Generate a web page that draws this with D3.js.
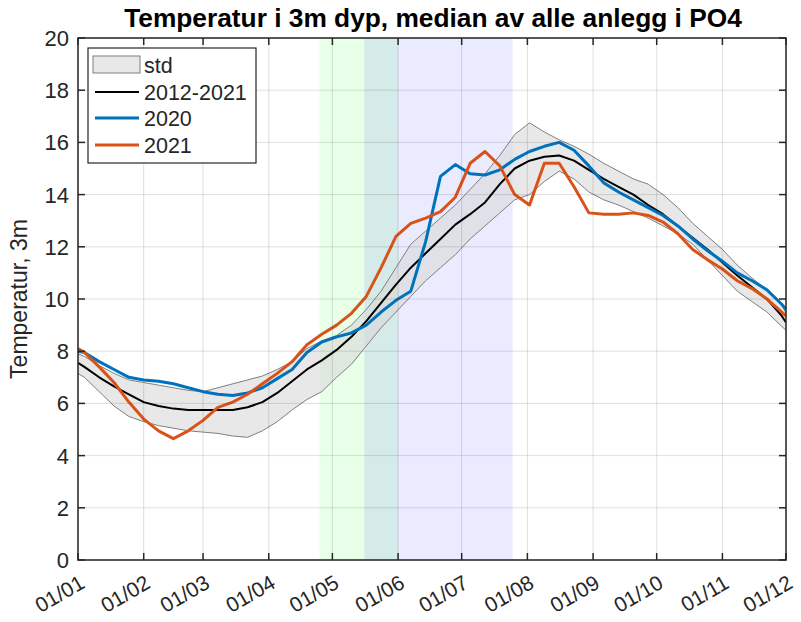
<!DOCTYPE html>
<html><head><meta charset="utf-8">
<script src="https://cdn.jsdelivr.net/npm/d3@7"></script>
<style>body{margin:0;background:#fff}svg{display:block}</style>
</head><body><svg id="c" width="801" height="622"></svg>
<script>
// day offsets from 1 January 2021 (weekly samples)
const dayOffsets = [0,3,10,17,24,31,38,45,52,59,66,73,80,87,94,101,108,115,122,129,136,143,150,157,164,171,178,185,192,199,206,213,220,227,234,241,248,255,262,269,276,283,290,297,304,311,318,325,332,334];
const median = [7.55,7.4,7.0,6.65,6.35,6.05,5.9,5.8,5.75,5.75,5.75,5.75,5.85,6.05,6.4,6.85,7.3,7.65,8.05,8.55,9.15,9.85,10.55,11.2,11.75,12.3,12.85,13.25,13.7,14.4,15.0,15.3,15.45,15.5,15.3,14.95,14.6,14.3,14.0,13.6,13.25,12.8,12.35,11.9,11.4,10.9,10.45,10.0,9.35,9.1];
const stdUpper = [7.9,7.8,7.45,7.15,6.9,6.8,6.7,6.6,6.5,6.45,6.6,6.75,6.9,7.05,7.3,7.6,8.1,8.4,8.6,9.0,9.6,10.3,11.2,12.1,12.6,13.1,13.6,14.2,14.8,15.5,16.3,16.75,16.4,16.1,15.85,15.55,15.2,14.9,14.6,14.4,14.0,13.5,12.9,12.4,11.9,11.3,10.8,10.35,9.8,9.45];
const stdLower = [7.15,7.0,6.45,5.9,5.5,5.3,5.15,5.05,4.95,4.9,4.85,4.75,4.7,4.95,5.3,5.75,6.15,6.45,7.0,7.5,8.2,8.9,9.5,10.1,10.7,11.2,11.7,12.3,12.8,13.3,13.8,14.0,14.5,14.9,14.6,14.1,13.8,13.6,13.35,13.1,12.8,12.5,12.1,11.5,10.9,10.3,9.9,9.5,8.95,8.8];
const y2020 = [8.0,7.95,7.6,7.3,7.0,6.9,6.85,6.75,6.6,6.45,6.35,6.3,6.4,6.6,6.95,7.3,7.95,8.35,8.55,8.7,9.0,9.5,9.95,10.3,12.2,14.7,15.15,14.8,14.75,14.95,15.35,15.65,15.85,16.0,15.7,15.1,14.45,14.1,13.8,13.5,13.2,12.8,12.3,11.85,11.45,11.0,10.7,10.35,9.8,9.6];
const y2021 = [8.1,7.95,7.4,6.8,6.05,5.4,4.95,4.65,4.95,5.35,5.85,6.05,6.35,6.75,7.15,7.6,8.25,8.65,9.0,9.45,10.1,11.2,12.4,12.9,13.1,13.35,13.9,15.2,15.65,15.1,14.0,13.6,15.2,15.2,14.3,13.3,13.25,13.25,13.3,13.2,12.95,12.5,11.9,11.5,11.15,10.7,10.4,10.0,9.5,9.35];
const xTickLabels = ["01/01","01/02","01/03","01/04","01/05","01/06","01/07","01/08","01/09","01/10","01/11","01/12"];
const yTicks = [0,2,4,6,8,10,12,14,16,18,20];
const bands = [
  {start:"2021-04-25", end:"2021-06-01", color:"rgb(0,255,0)", op:0.09},
  {start:"2021-05-16", end:"2021-07-25", color:"rgb(0,0,255)", op:0.08}
];
const legendLabels = ["std","2012-2021","2020","2021"];

const toDate = d => new Date(Date.UTC(2021,0,1+d));
const parse = d3.utcParse("%Y-%m-%d");
const FONT = "'Liberation Sans', Arial, Helvetica, sans-serif";
const INK = "#262626";

const L=78,R=786,T=38,B=560;
const x = d3.scaleUtc().domain([new Date(Date.UTC(2021,0,1)), new Date(Date.UTC(2021,11,1))]).range([L,R]);
const y = d3.scaleLinear().domain([0,20]).range([B,T]);
const svg = d3.select("#c");
svg.append("defs").append("clipPath").attr("id","clip").append("rect").attr("x",L).attr("y",T).attr("width",R-L).attr("height",B-T);

const xTicks = xTickLabels.map(s => new Date(Date.UTC(2021, +s.slice(3)-1, +s.slice(0,2))));

// background bands
const plot = svg.append("g").attr("clip-path","url(#clip)");
bands.forEach(b => {
  plot.append("rect").attr("x",x(parse(b.start))).attr("width",x(parse(b.end))-x(parse(b.start)))
    .attr("y",T).attr("height",B-T).attr("fill",b.color).attr("fill-opacity",b.op);
});
// grid
const grid = svg.append("g").attr("stroke",INK).attr("stroke-opacity",0.15).attr("stroke-width",1);
xTicks.forEach(t => grid.append("line").attr("x1",x(t)).attr("x2",x(t)).attr("y1",T).attr("y2",B));
yTicks.forEach(v => grid.append("line").attr("y1",y(v)).attr("y2",y(v)).attr("x1",L).attr("x2",R));

// data
const pts = dayOffsets.map((d,i)=>({t:toDate(d),m:median[i],u:stdUpper[i],l:stdLower[i],a:y2020[i],b:y2021[i]}));
const area = d3.area().x(d=>x(d.t)).y0(d=>y(d.l)).y1(d=>y(d.u));
plot.append("path").datum(pts).attr("d",area).attr("fill","#d9d9d9").attr("fill-opacity",0.6);
const edge = k => d3.line().x(d=>x(d.t)).y(d=>y(d[k]));
plot.append("path").datum(pts).attr("d",edge("u")).attr("fill","none").attr("stroke","#7f7f7f").attr("stroke-width",1);
plot.append("path").datum(pts).attr("d",edge("l")).attr("fill","none").attr("stroke","#7f7f7f").attr("stroke-width",1);
plot.append("path").datum(pts).attr("d",edge("m")).attr("fill","none").attr("stroke","#000").attr("stroke-width",2).attr("stroke-linejoin","round");
plot.append("path").datum(pts).attr("d",edge("a")).attr("fill","none").attr("stroke","#0072BD").attr("stroke-width",3).attr("stroke-linejoin","round");
plot.append("path").datum(pts).attr("d",edge("b")).attr("fill","none").attr("stroke","#D95319").attr("stroke-width",3).attr("stroke-linejoin","round");

// axes box + ticks
const ax = svg.append("g").attr("stroke",INK).attr("stroke-width",1.5).attr("fill","none");
ax.append("rect").attr("x",L).attr("y",T).attr("width",R-L).attr("height",B-T);
xTicks.forEach(t => {
  ax.append("line").attr("x1",x(t)).attr("x2",x(t)).attr("y1",B).attr("y2",B-7);
  ax.append("line").attr("x1",x(t)).attr("x2",x(t)).attr("y1",T).attr("y2",T+7);
});
yTicks.forEach(v => {
  ax.append("line").attr("y1",y(v)).attr("y2",y(v)).attr("x1",L).attr("x2",L+7);
  ax.append("line").attr("y1",y(v)).attr("y2",y(v)).attr("x1",R).attr("x2",R-7);
});

// tick labels
const tl = svg.append("g").attr("font-family",FONT).attr("fill",INK).attr("font-size",22);
yTicks.forEach(v => tl.append("text").attr("x",L-9).attr("y",y(v)).attr("dy","0.36em").attr("text-anchor","end").text(v));
xTicks.forEach((t,i) => {
  const px = x(t)+8, py = 587;
  tl.append("text").attr("transform",`translate(${px},${py}) rotate(-30)`).attr("text-anchor","end")
    .attr("font-size",21).text(xTickLabels[i]);
});

// y label
svg.append("text").attr("transform",`translate(27,${(T+B)/2}) rotate(-90)`).attr("text-anchor","middle")
  .attr("font-family",FONT).attr("font-size",23).attr("fill",INK).text("Temperatur, 3m");
// title
svg.append("text").attr("x",433).attr("y",27).attr("text-anchor","middle").attr("font-family",FONT)
  .attr("font-weight","bold").attr("font-size",26.3).attr("fill","#000").text("Temperatur i 3m dyp, median av alle anlegg i PO4");

// legend
const lg = svg.append("g");
lg.append("rect").attr("x",88).attr("y",48).attr("width",168).attr("height",115).attr("fill","#fff").attr("stroke",INK).attr("stroke-width",1.2);
const rowY = [65,92,118,145];
lg.append("rect").attr("x",93).attr("y",56).attr("width",47).attr("height",17).attr("fill","#d9d9d9").attr("fill-opacity",0.6).attr("stroke","#7f7f7f").attr("stroke-width",1);
const lstyles = [null,{c:"#000",w:2},{c:"#0072BD",w:3},{c:"#D95319",w:3}];
lstyles.forEach((s,i)=>{ if(!s) return;
  lg.append("line").attr("x1",95).attr("x2",139).attr("y1",rowY[i]).attr("y2",rowY[i]).attr("stroke",s.c).attr("stroke-width",s.w);
});
legendLabels.forEach((s,i)=> lg.append("text").attr("x",144).attr("y",rowY[i]).attr("dy","0.36em")
  .attr("font-family",FONT).attr("font-size",21.5).attr("fill",INK).text(s));
</script></body></html>
